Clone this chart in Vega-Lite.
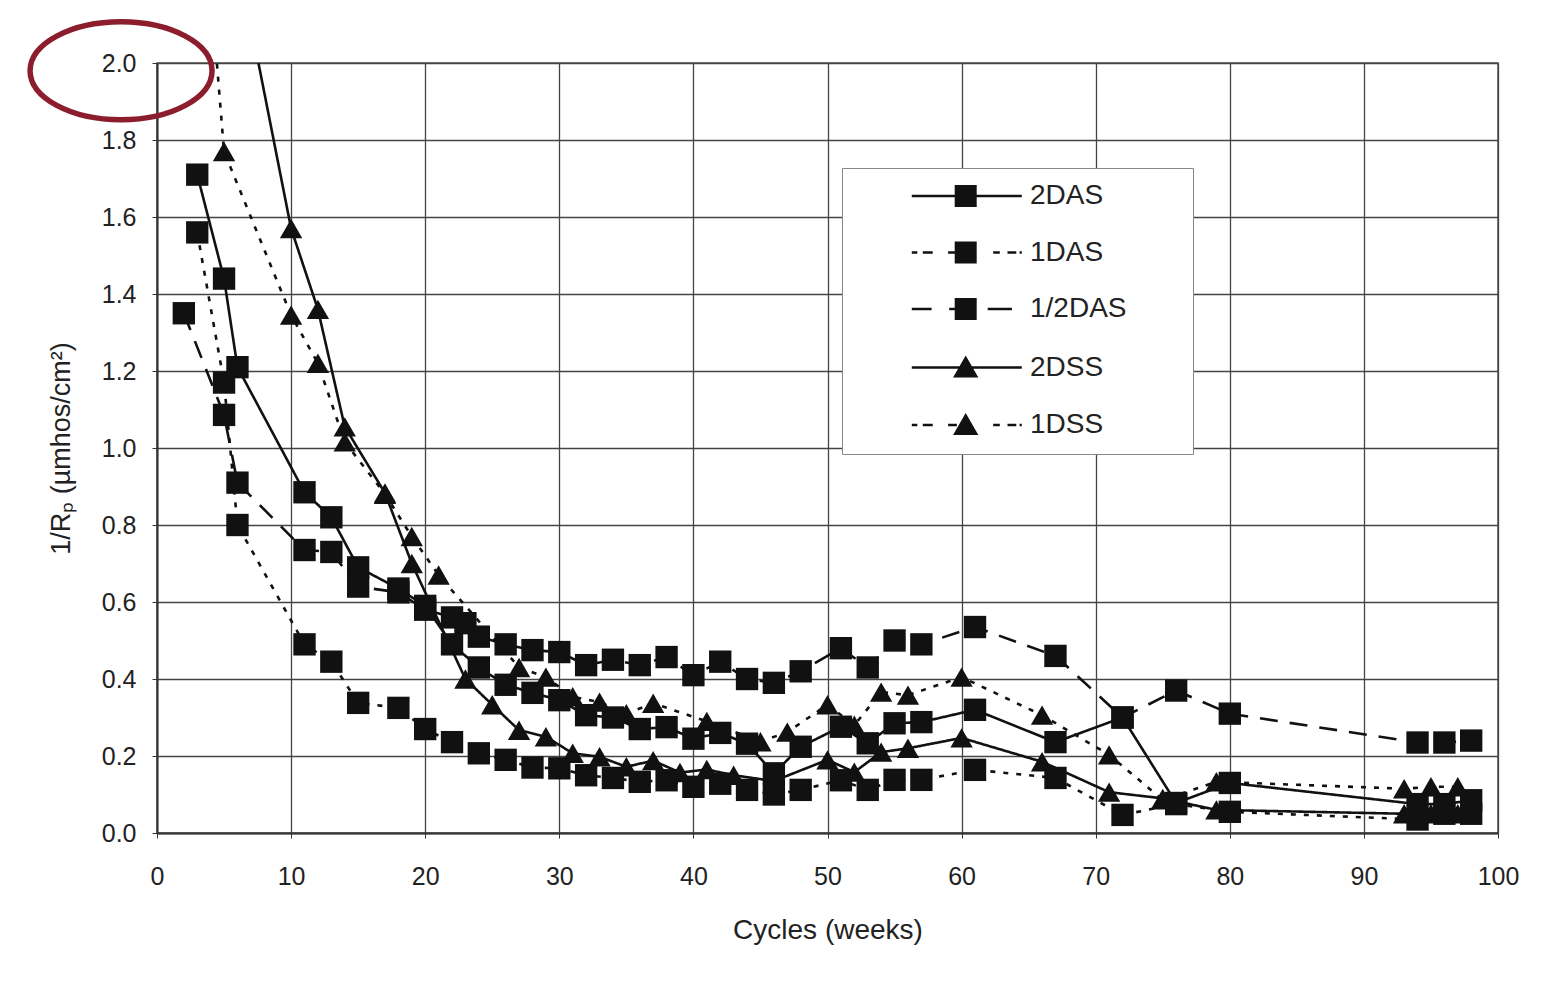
{
  "$schema": "https://vega.github.io/schema/vega-lite/v6.json",
  "width": 1341,
  "height": 770,
  "autosize": "none",
  "padding": {"left": 157, "top": 63, "right": 55, "bottom": 157},
  "background": "white",
  "config": {
    "font": "Liberation Sans",
    "view": {"stroke": "#555", "strokeWidth": 1.5},
    "axis": {
      "labelFont": "Liberation Sans", "labelFontSize": 25, "labelColor": "#222",
      "titleFont": "Liberation Sans", "titleFontSize": 27, "titleFontWeight": "normal", "titleColor": "#222",
      "gridColor": "#444", "gridWidth": 1.3, "domainColor": "#333", "domainWidth": 2,
      "tickColor": "#333", "tickSize": 5, "labelFlush": false
    }
  },
  "datasets": {
    "obs": [
      {"s":"2DAS","x":3,"y":1.71},{"s":"2DAS","x":5,"y":1.44},{"s":"2DAS","x":6,"y":1.21},{"s":"2DAS","x":11,"y":0.885},{"s":"2DAS","x":13,"y":0.82},{"s":"2DAS","x":15,"y":0.69},{"s":"2DAS","x":18,"y":0.635},{"s":"2DAS","x":20,"y":0.59},{"s":"2DAS","x":22,"y":0.49},{"s":"2DAS","x":24,"y":0.43},{"s":"2DAS","x":26,"y":0.385},{"s":"2DAS","x":28,"y":0.364},{"s":"2DAS","x":30,"y":0.345},{"s":"2DAS","x":32,"y":0.306},{"s":"2DAS","x":34,"y":0.3},{"s":"2DAS","x":36,"y":0.27},{"s":"2DAS","x":38,"y":0.275},{"s":"2DAS","x":40,"y":0.245},{"s":"2DAS","x":42,"y":0.26},{"s":"2DAS","x":44,"y":0.232},{"s":"2DAS","x":46,"y":0.155},{"s":"2DAS","x":48,"y":0.224},{"s":"2DAS","x":51,"y":0.276},{"s":"2DAS","x":53,"y":0.233},{"s":"2DAS","x":55,"y":0.285},{"s":"2DAS","x":57,"y":0.288},{"s":"2DAS","x":61,"y":0.32},{"s":"2DAS","x":67,"y":0.236},{"s":"2DAS","x":72,"y":0.3},{"s":"2DAS","x":76,"y":0.078},{"s":"2DAS","x":80,"y":0.13},{"s":"2DAS","x":94,"y":0.075},{"s":"2DAS","x":96,"y":0.075},{"s":"2DAS","x":98,"y":0.085},
      {"s":"1DAS","x":3,"y":1.56},{"s":"1DAS","x":5,"y":1.17},{"s":"1DAS","x":6,"y":0.8},{"s":"1DAS","x":11,"y":0.49},{"s":"1DAS","x":13,"y":0.445},{"s":"1DAS","x":15,"y":0.338},{"s":"1DAS","x":18,"y":0.325},{"s":"1DAS","x":20,"y":0.27},{"s":"1DAS","x":22,"y":0.236},{"s":"1DAS","x":24,"y":0.207},{"s":"1DAS","x":26,"y":0.19},{"s":"1DAS","x":28,"y":0.17},{"s":"1DAS","x":30,"y":0.168},{"s":"1DAS","x":32,"y":0.15},{"s":"1DAS","x":34,"y":0.143},{"s":"1DAS","x":36,"y":0.133},{"s":"1DAS","x":38,"y":0.137},{"s":"1DAS","x":40,"y":0.12},{"s":"1DAS","x":42,"y":0.128},{"s":"1DAS","x":44,"y":0.112},{"s":"1DAS","x":46,"y":0.1},{"s":"1DAS","x":48,"y":0.112},{"s":"1DAS","x":51,"y":0.137},{"s":"1DAS","x":53,"y":0.112},{"s":"1DAS","x":55,"y":0.138},{"s":"1DAS","x":57,"y":0.138},{"s":"1DAS","x":61,"y":0.164},{"s":"1DAS","x":67,"y":0.143},{"s":"1DAS","x":72,"y":0.047},{"s":"1DAS","x":76,"y":0.075},{"s":"1DAS","x":80,"y":0.055},{"s":"1DAS","x":94,"y":0.035},{"s":"1DAS","x":96,"y":0.05},{"s":"1DAS","x":98,"y":0.05},
      {"s":"1/2DAS","x":2,"y":1.35},{"s":"1/2DAS","x":5,"y":1.086},{"s":"1/2DAS","x":6,"y":0.91},{"s":"1/2DAS","x":11,"y":0.735},{"s":"1/2DAS","x":13,"y":0.73},{"s":"1/2DAS","x":15,"y":0.64},{"s":"1/2DAS","x":18,"y":0.625},{"s":"1/2DAS","x":20,"y":0.58},{"s":"1/2DAS","x":22,"y":0.56},{"s":"1/2DAS","x":23,"y":0.545},{"s":"1/2DAS","x":24,"y":0.51},{"s":"1/2DAS","x":26,"y":0.49},{"s":"1/2DAS","x":28,"y":0.475},{"s":"1/2DAS","x":30,"y":0.47},{"s":"1/2DAS","x":32,"y":0.436},{"s":"1/2DAS","x":34,"y":0.45},{"s":"1/2DAS","x":36,"y":0.436},{"s":"1/2DAS","x":38,"y":0.457},{"s":"1/2DAS","x":40,"y":0.41},{"s":"1/2DAS","x":42,"y":0.445},{"s":"1/2DAS","x":44,"y":0.4},{"s":"1/2DAS","x":46,"y":0.39},{"s":"1/2DAS","x":48,"y":0.42},{"s":"1/2DAS","x":51,"y":0.48},{"s":"1/2DAS","x":53,"y":0.43},{"s":"1/2DAS","x":55,"y":0.5},{"s":"1/2DAS","x":57,"y":0.49},{"s":"1/2DAS","x":61,"y":0.535},{"s":"1/2DAS","x":67,"y":0.46},{"s":"1/2DAS","x":72,"y":0.3},{"s":"1/2DAS","x":76,"y":0.37},{"s":"1/2DAS","x":80,"y":0.31},{"s":"1/2DAS","x":94,"y":0.235},{"s":"1/2DAS","x":96,"y":0.235},{"s":"1/2DAS","x":98,"y":0.24},
      {"s":"2DSS","x":7,"y":2.1},{"s":"2DSS","x":10,"y":1.57},{"s":"2DSS","x":12,"y":1.36},{"s":"2DSS","x":14,"y":1.055},{"s":"2DSS","x":17,"y":0.883},{"s":"2DSS","x":19,"y":0.7},{"s":"2DSS","x":23,"y":0.4},{"s":"2DSS","x":25,"y":0.333},{"s":"2DSS","x":27,"y":0.267},{"s":"2DSS","x":29,"y":0.25},{"s":"2DSS","x":31,"y":0.207},{"s":"2DSS","x":33,"y":0.198},{"s":"2DSS","x":35,"y":0.172},{"s":"2DSS","x":37,"y":0.188},{"s":"2DSS","x":39,"y":0.157},{"s":"2DSS","x":41,"y":0.165},{"s":"2DSS","x":43,"y":0.15},{"s":"2DSS","x":46,"y":0.135},{"s":"2DSS","x":50,"y":0.19},{"s":"2DSS","x":52,"y":0.158},{"s":"2DSS","x":54,"y":0.21},{"s":"2DSS","x":56,"y":0.22},{"s":"2DSS","x":60,"y":0.247},{"s":"2DSS","x":66,"y":0.185},{"s":"2DSS","x":71,"y":0.106},{"s":"2DSS","x":75,"y":0.09},{"s":"2DSS","x":79,"y":0.06},{"s":"2DSS","x":93,"y":0.05},{"s":"2DSS","x":95,"y":0.05},{"s":"2DSS","x":97,"y":0.05},
      {"s":"1DSS","x":4,"y":2.2},{"s":"1DSS","x":5,"y":1.77},{"s":"1DSS","x":10,"y":1.345},{"s":"1DSS","x":12,"y":1.22},{"s":"1DSS","x":14,"y":1.016},{"s":"1DSS","x":17,"y":0.88},{"s":"1DSS","x":19,"y":0.77},{"s":"1DSS","x":21,"y":0.67},{"s":"1DSS","x":27,"y":0.43},{"s":"1DSS","x":29,"y":0.405},{"s":"1DSS","x":31,"y":0.354},{"s":"1DSS","x":33,"y":0.34},{"s":"1DSS","x":35,"y":0.31},{"s":"1DSS","x":37,"y":0.337},{"s":"1DSS","x":41,"y":0.29},{"s":"1DSS","x":45,"y":0.237},{"s":"1DSS","x":47,"y":0.262},{"s":"1DSS","x":50,"y":0.333},{"s":"1DSS","x":52,"y":0.28},{"s":"1DSS","x":54,"y":0.366},{"s":"1DSS","x":56,"y":0.358},{"s":"1DSS","x":60,"y":0.405},{"s":"1DSS","x":66,"y":0.306},{"s":"1DSS","x":71,"y":0.203},{"s":"1DSS","x":75,"y":0.086},{"s":"1DSS","x":79,"y":0.133},{"s":"1DSS","x":93,"y":0.115},{"s":"1DSS","x":95,"y":0.12},{"s":"1DSS","x":97,"y":0.12}
    ]
  },
  "layer": [
    {
      "data": {"name": "obs"},
      "mark": {"type": "line", "color": "#111", "strokeWidth": 2.6, "clip": true},
      "encoding": {
        "x": {"field": "x", "type": "quantitative", "scale": {"domain": [0, 100], "nice": false, "zero": false},
              "axis": {"values": [0,10,20,30,40,50,60,70,80,90,100], "title": "Cycles (weeks)", "labelPadding": 26, "titlePadding": 27, "titleFontSize": 28}},
        "y": {"field": "y", "type": "quantitative", "scale": {"domain": [0, 2], "nice": false},
              "axis": {"values": [0,0.2,0.4,0.6,0.8,1.0,1.2,1.4,1.6,1.8,2.0], "format": ".1f", "title": "1/Rₚ (µmhos/cm²)", "labelPadding": 16, "titlePadding": 26}},
        "detail": {"field": "s", "type": "nominal"},
        "strokeDash": {"field": "s", "type": "nominal",
          "scale": {"domain": ["2DAS","1DAS","1/2DAS","2DSS","1DSS"], "range": [[1,0],[5,8],[18,12],[1,0],[5,8]]},
          "legend": null}
      }
    },
    {
      "data": {"name": "obs"},
      "mark": {"type": "point", "filled": true, "color": "#111", "opacity": 1, "size": 500, "clip": true},
      "encoding": {
        "x": {"field": "x", "type": "quantitative"},
        "y": {"field": "y", "type": "quantitative"},
        "shape": {"field": "s", "type": "nominal",
          "scale": {"domain": ["2DAS","1DAS","1/2DAS","2DSS","1DSS"], "range": ["square","square","square","triangle-up","triangle-up"]},
          "legend": null}
      }
    },
    {
      "data": {"name": "obs"},
      "transform": [{"filter": "false"}],
      "mark": {"type": "point", "filled": true, "fill": "#111", "stroke": "#111", "strokeWidth": 2.5, "opacity": 1, "size": 484},
      "encoding": {
        "x": {"field": "x", "type": "quantitative"},
        "y": {"field": "y", "type": "quantitative"},
        "shape": {"field": "s", "type": "nominal",
          "scale": {"domain": ["2DAS","1DAS","1/2DAS","2DSS","1DSS"],
            "range": [
              "M3.8,-0.11H13.8V0.11H3.8ZM7.7,-1H9.7V1H7.7ZM27.6,0",
              "M3.8,-0.11H4.3V0.11H3.8ZM4.8,-0.11H5.7V0.11H4.8ZM7.1,-0.11H7.7V0.11H7.1ZM7.7,-1H9.7V1H7.7ZM11.2,-0.11H11.8V0.11H11.2ZM12.5,-0.11H13.3V0.11H12.5ZM13.6,-0.11H13.8V0.11H13.6ZM27.6,0",
              "M3.8,-0.11H5.6V0.11H3.8ZM7.2,-0.11H7.7V0.11H7.2ZM7.7,-1H9.7V1H7.7ZM10.7,-0.11H12.9V0.11H10.7ZM27.6,0",
              "M3.8,-0.11H13.8V0.11H3.8ZM8.7,-1.1L9.85,0.9H7.55ZM27.6,0",
              "M3.8,-0.11H4.3V0.11H3.8ZM4.8,-0.11H5.7V0.11H4.8ZM7.1,-0.11H7.9V0.11H7.1ZM8.7,-1.1L9.85,0.9H7.55ZM11.2,-0.11H11.8V0.11H11.2ZM12.5,-0.11H13.3V0.11H12.5ZM13.6,-0.11H13.8V0.11H13.6ZM27.6,0"
            ]},
          "legend": {
            "title": null, "orient": "none", "legendX": 685, "legendY": 105,
            "padding": 14, "strokeColor": "#888", "fillColor": "white",
            "symbolSize": 484, "symbolFillColor": "#111", "symbolStrokeColor": "#111", "symbolStrokeWidth": 2.5, "symbolOpacity": 1,
            "labelFont": "Liberation Sans", "labelFontSize": 28, "labelColor": "#222", "labelOffset": 146, "labelLimit": 300,
            "rowPadding": 24.5,
            "encode": {"symbols": {"stroke": {"value": "#111"}, "strokeWidth": {"value": 2.5}, "fill": {"value": "#111"}, "opacity": {"value": 1}}}
          }
        }
      }
    },
    {
      "data": {"values": [{"label": "2.0"}]},
      "mark": {"type": "point", "shape": "M-1.857,0A1.857,1,0,1,0,1.857,0A1.857,1,0,1,0,-1.857,0Z", "size": 9604, "filled": false, "stroke": "#8c1d2d", "strokeWidth": 5.5, "opacity": 1, "clip": false},
      "encoding": {
        "x": {"datum": -2.68, "type": "quantitative"},
        "y": {"datum": 1.98, "type": "quantitative"}
      }
    }
  ],
  "resolve": {"scale": {"shape": "independent"}}
}
